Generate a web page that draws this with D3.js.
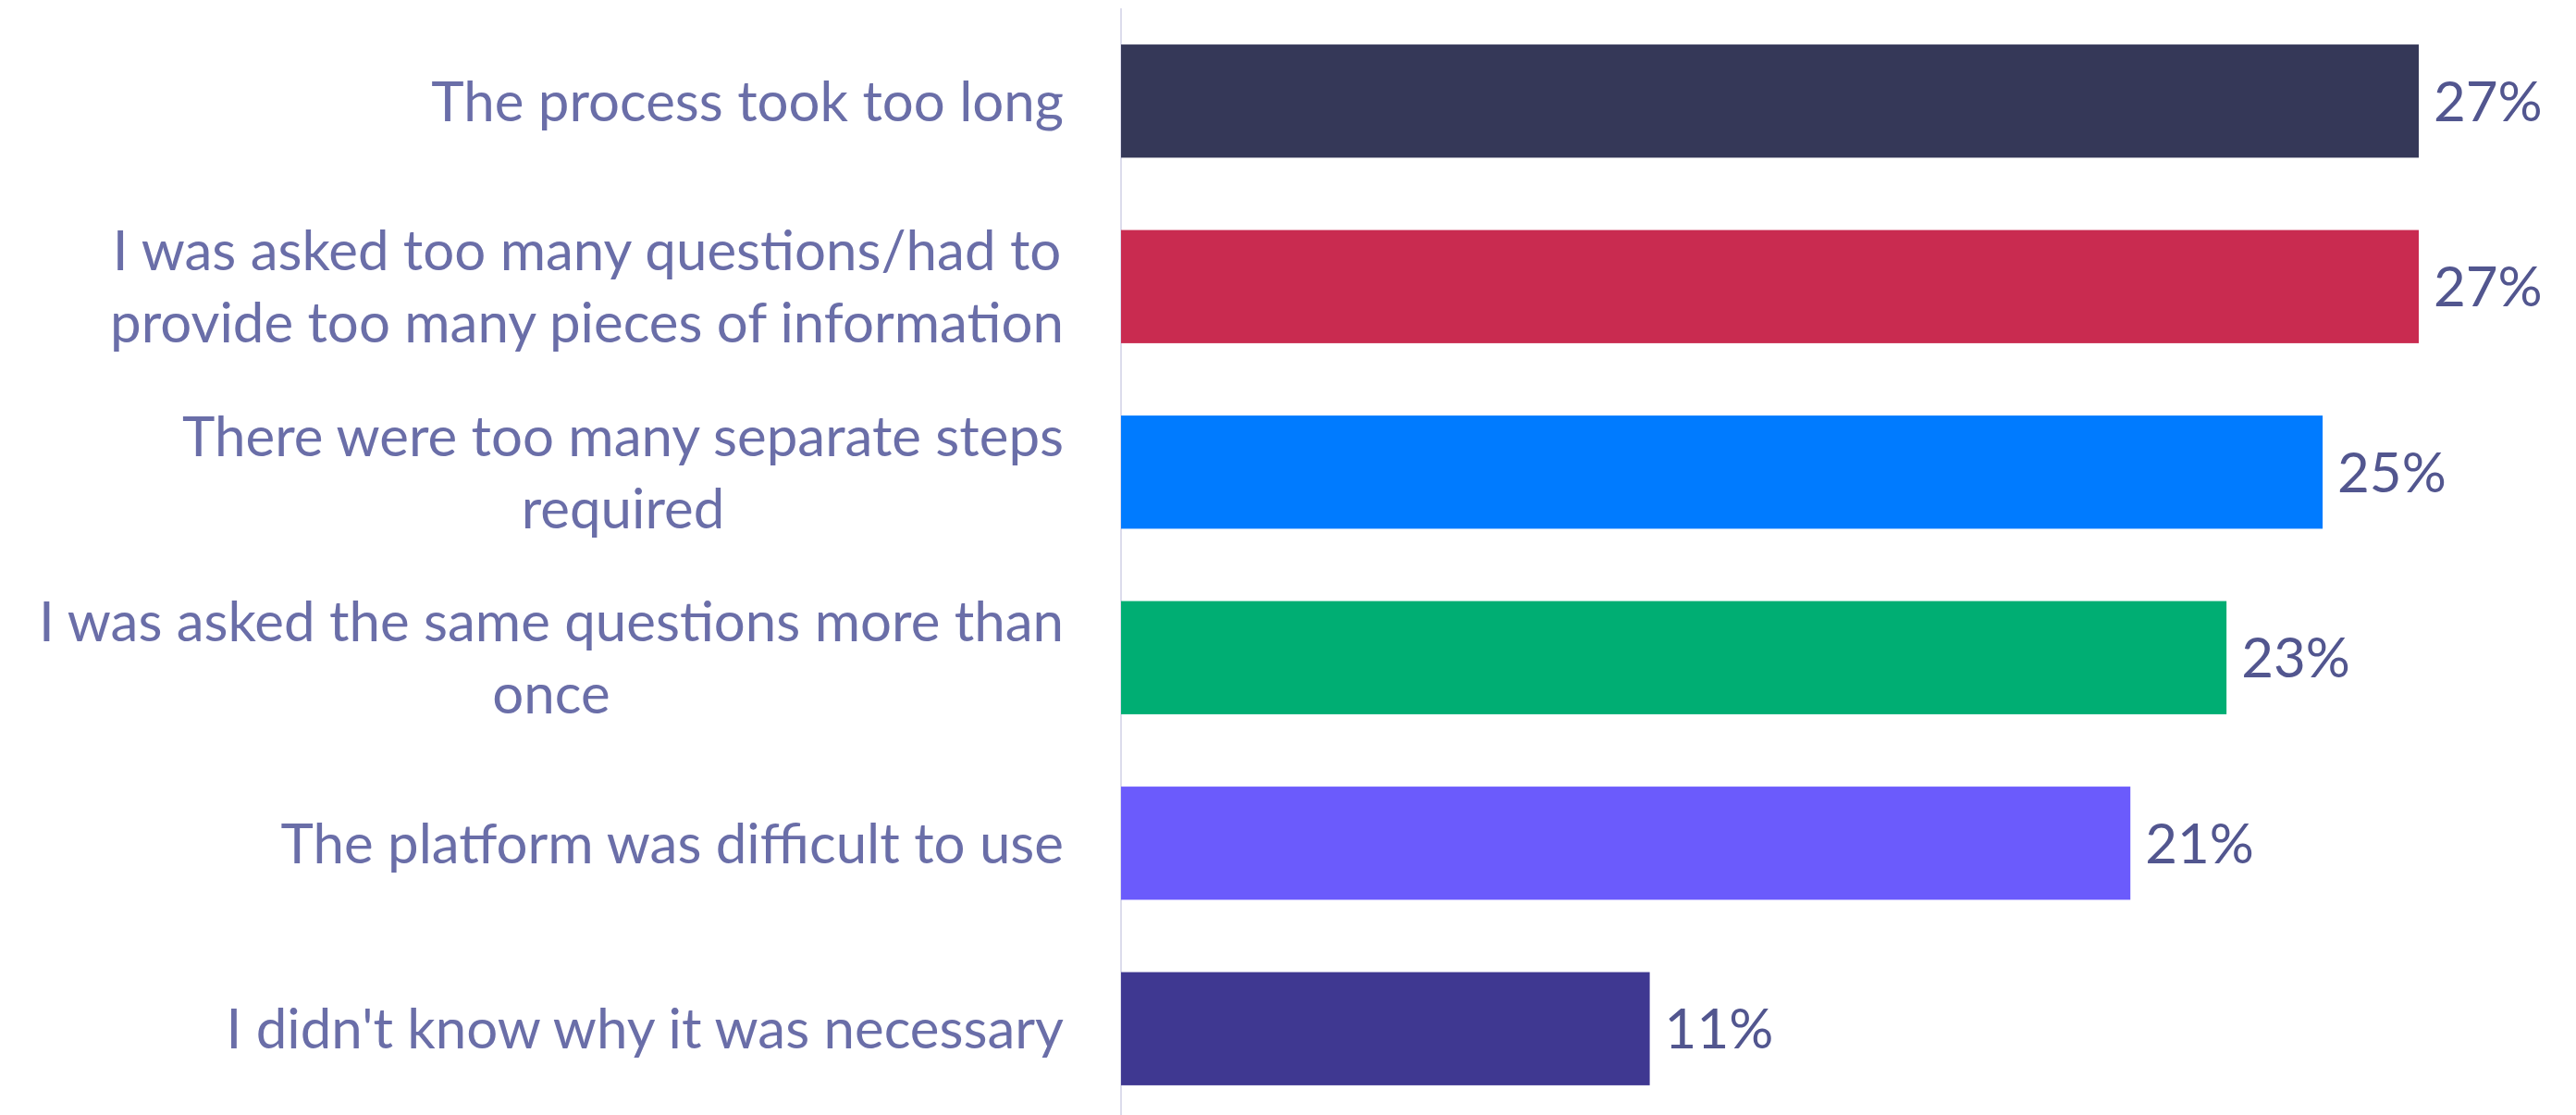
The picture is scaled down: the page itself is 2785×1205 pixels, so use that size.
<!DOCTYPE html>
<html>
<head>
<meta charset="utf-8">
<script src="https://cdn.jsdelivr.net/npm/d3@7"></script>
<style>
  html, body { margin: 0; padding: 0; background: #ffffff; }
  svg { display: block; }
  .cat-label { font-family: Lato, "Open Sans", sans-serif; fill: #6a6ea8; }
  .val-label { font-family: Lato, "Open Sans", sans-serif; fill: #52568f; }
</style>
</head>
<body>
<svg id="chart" width="2785" height="1205"></svg>
<script>
// Reasons respondents gave, one bar per reason (share of respondents, %)
const categories = [
  "The process took too long",
  "I was asked too many questions/had to\nprovide too many pieces of information",
  "There were too many separate steps\nrequired",
  "I was asked the same questions more than\nonce",
  "The platform was difficult to use",
  "I didn't know why it was necessary"
];
const values = [27, 27, 25, 23, 21, 11];
const barColors = ["#353858", "#c92b50", "#007bff", "#00ae73", "#6b5bfc", "#3f3891"];
const valueFormat = v => v + "%";

const width = 2785, height = 1205;
const axisX = 1212;
const labelRight = 1150;
const svg = d3.select("#chart");

const y = d3.scaleBand()
  .domain(categories)
  .range([9, 1212])
  .paddingInner(0.39)
  .paddingOuter(0.195);

const x = d3.scaleLinear()
  .domain([0, 27])
  .range([axisX, 2615]);

// vertical baseline of the bars
svg.append("line")
  .attr("x1", x(0)).attr("x2", x(0))
  .attr("y1", 9).attr("y2", height)
  .attr("stroke", "#dcdcec")
  .attr("stroke-width", 2);

// bars
svg.append("g")
  .selectAll("rect")
  .data(categories)
  .join("rect")
  .attr("x", x(0))
  .attr("y", d => y(d))
  .attr("width", (d, i) => x(values[i]) - x(0))
  .attr("height", y.bandwidth())
  .attr("fill", (d, i) => barColors[i]);

// value labels at the end of each bar
const fontSize = 60;
svg.append("g")
  .selectAll("text")
  .data(categories)
  .join("text")
  .attr("class", "val-label")
  .attr("x", (d, i) => x(values[i]) + 16)
  .attr("y", d => y(d) + y.bandwidth() / 2)
  .attr("dy", "0.36em")
  .style("font-size", fontSize + "px")
  .text((d, i) => valueFormat(values[i]));

// category labels: the block is right-aligned to the baseline,
// each line of a wrapped label is centred within that block
const lineHeight = 78;
svg.append("g")
  .selectAll("text")
  .data(categories)
  .join("text")
  .attr("class", "cat-label")
  .style("font-size", fontSize + "px")
  .each(function (d) {
    const lines = d.split("\n");
    const cy = y(d) + y.bandwidth() / 2;
    const first = cy - (lines.length - 1) * lineHeight / 2;
    const t = d3.select(this);
    const spans = t.selectAll("tspan")
      .data(lines)
      .join("tspan")
      .attr("y", (l, k) => first + k * lineHeight)
      .attr("dy", "0.36em")
      .text(l => l);
    if (lines.length === 1) {
      t.attr("text-anchor", "end");
      spans.attr("x", labelRight);
    } else {
      let maxW = 0;
      spans.each(function () { maxW = Math.max(maxW, this.getComputedTextLength()); });
      t.attr("text-anchor", "middle");
      spans.attr("x", labelRight - maxW / 2);
    }
  });
</script>
</body>
</html>
